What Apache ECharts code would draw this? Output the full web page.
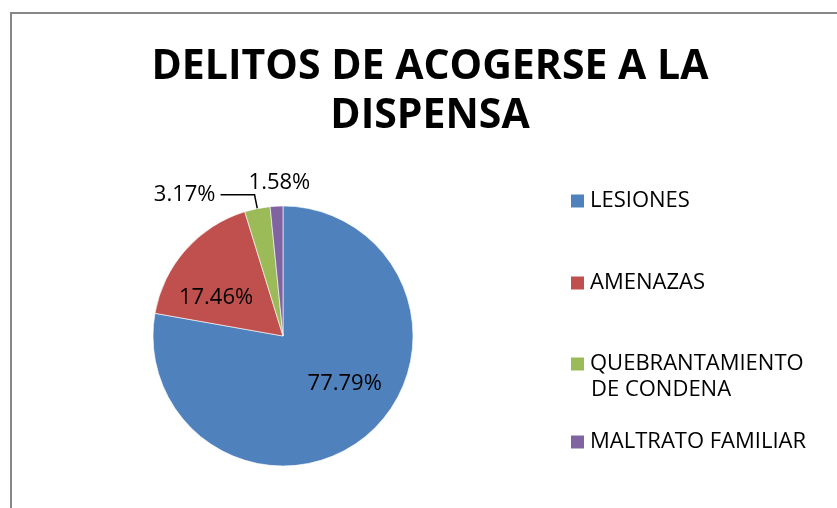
<!DOCTYPE html>
<html>
<head>
<meta charset="utf-8">
<script src="https://cdn.jsdelivr.net/npm/echarts@6/dist/echarts.min.js"></script>
<style>html,body{margin:0;padding:0;background:#fff}#c{width:837px;height:508px}</style>
</head>
<body>
<div id="c"></div>
<script>
const titleText = 'DELITOS DE ACOGERSE A LA\nDISPENSA';
const categories = ['LESIONES', 'AMENAZAS', 'QUEBRANTAMIENTO DE CONDENA', 'MALTRATO FAMILIAR'];
const values = [77.79, 17.46, 3.17, 1.58];
const colors = ['#4F81BD', '#C0504D', '#9BBB59', '#8064A2'];

const FONT = '"Open Sans", sans-serif';
const labelStyles = [
  { position: 'inside' },
  { position: 'inside' },
  { position: 'outside' },
  { position: 'outside' }
];
const lineStyles = [
  { show: false },
  { show: false },
  { show: true, length: 14, length2: 34 },
  { show: true, length: 6, length2: 2, lineStyle: { opacity: 0 } }
];
const labelShifts = [
  { dx: 18, dy: -4 },
  { dx: -16, dy: 7 },
  null,
  { dx: 41, dy: -17 }
];

const chart = echarts.init(document.getElementById('c'), null, { renderer: 'canvas' });
const legendTops = [190, 272, 353, 431];
const legends = categories.map((name, i) => ({
  data: [name],
  left: 569,
  top: legendTops[i],
  padding: 0,
  orient: 'vertical',
  icon: 'rect',
  itemWidth: 15,
  itemHeight: 15,
  selectedMode: false,
  formatter: (n) => n === 'QUEBRANTAMIENTO DE CONDENA' ? 'QUEBRANTAMIENTO' : n,
  textStyle: { fontFamily: FONT, fontSize: 22, color: '#000' }
}));

chart.setOption({
  animation: false,
  color: colors,
  title: {
    text: titleText,
    left: 425,
    top: 38,
    textAlign: 'center',
    textStyle: { fontFamily: FONT, fontWeight: 'bold', fontSize: 41, lineHeight: 49, color: '#000' }
  },
  legend: legends,
  graphic: [
    {
      type: 'rect', silent: true,
      shape: { x: 11, y: 13, width: 900, height: 600 },
      style: { fill: 'none', stroke: '#878787', lineWidth: 2 }
    },
    {
      type: 'text', left: 591, top: 379,
      style: { text: 'DE CONDENA', font: '22px "Open Sans", sans-serif', fill: '#000' }
    }
  ],
  series: [{
    type: 'pie',
    center: [283, 336],
    radius: 130,
    startAngle: 90,
    clockwise: true,
    avoidLabelOverlap: false,
    itemStyle: { borderColor: '#ffffff', borderWidth: 0.6 },
    label: {
      fontFamily: FONT, fontSize: 22, color: '#000',
      formatter: (p) => p.value.toFixed(2) + '%'
    },
    labelLine: { lineStyle: { color: '#000', width: 1.5 } },
    labelLayout: (p) => labelShifts[p.dataIndex] || {},
    data: categories.map((name, i) => ({
      name: name,
      value: values[i],
      label: labelStyles[i],
      labelLine: lineStyles[i]
    }))
  }]
});
</script>
</body>
</html>
